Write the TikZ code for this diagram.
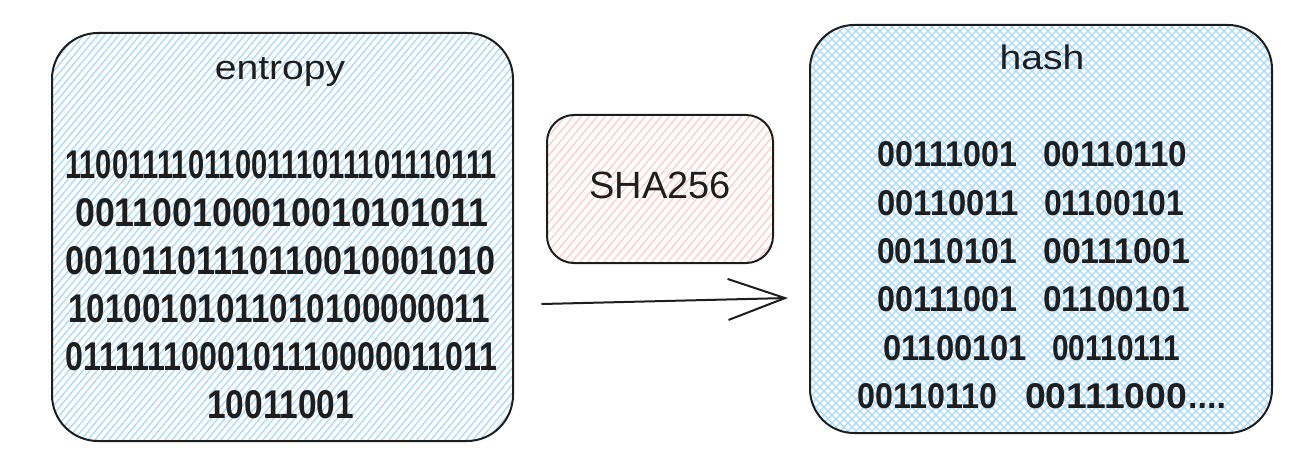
\documentclass[tikz,border=0pt]{standalone}
\usepackage{fontspec}
\usepackage{graphicx}
\setmainfont{Liberation Sans}
\newfontfamily\titlefont[FakeStretch=1.15]{Liberation Sans}
\usetikzlibrary{arrows.meta}
\definecolor{ink}{HTML}{1E1E1E}
\definecolor{bluehatch}{HTML}{A5D8FF}
\definecolor{redhatch}{HTML}{FFC9C9}
\newcommand{\bitrun}[2]{\resizebox{#1}{!}{\fontsize{40}{46}\selectfont\bfseries #2}}
\newcommand{\bitrow}[3]{\resizebox{#1}{#2}{\fontsize{40}{46}\selectfont\bfseries #3}}
\tikzset{
  sketchbox/.style={draw=ink, line width=2pt, inner sep=0pt, outer sep=0pt},
  hatchline/.style={line width=1.2pt},
  bluehatchfill/.style={path picture={
    \foreach \i in {-420,-413,...,470}
      \draw[hatchline, bluehatch] ([xshift=\i pt]path picture bounding box.south west) -- ++(360pt,430pt);}},
  bluecrossfill/.style={path picture={
    \foreach \i in {-420,-412,...,470}
      \draw[hatchline, bluehatch] ([xshift=\i pt]path picture bounding box.south west) -- ++(420pt,420pt);
    \foreach \i in {0,8,...,890}
      \draw[hatchline, bluehatch] ([xshift=\i pt]path picture bounding box.south west) -- ++(-420pt,420pt);}},
  redhatchfill/.style={path picture={
    \foreach \i in {-200,-192,...,230}
      \draw[hatchline, redhatch] ([xshift=\i pt]path picture bounding box.south west) -- ++(150pt,180pt);}},
  titletext/.style={anchor=base, text=ink, inner sep=0pt, font=\titlefont\fontsize{34}{40}\selectfont},
  leftbits/.style={anchor=base west, text=ink, inner sep=0pt},
  rightbits/.style={anchor=base west, text=ink, inner sep=0pt},
  arrowline/.style={draw=ink, line width=2pt, line cap=round, -{Straight Barb[length=57pt,width=41pt]}}
}
\begin{document}
\begin{tikzpicture}[x=1pt,y=-1pt]
\useasboundingbox (0,0) rectangle (1314,476);
% boxes
\node[sketchbox, bluehatchfill, rounded corners=46pt, minimum width=461pt, minimum height=408pt] (entropybox) at (282.5,237) {};
\node[sketchbox, bluecrossfill, rounded corners=44pt, minimum width=462pt, minimum height=408pt] (hashbox) at (1041,229) {};
\node[sketchbox, redhatchfill, rounded corners=27pt, minimum width=226pt, minimum height=148pt] (shabox) at (660,189) {};
% titles
\node[titletext] (entropytitle) at (280,80) {entropy};
\node[titletext] (hashtitle) at (1042,70) {hash};
\node[anchor=base, text=ink, inner sep=0pt, font=\fontsize{38}{44}\selectfont] (shatext) at (660,198) {SHA256};
% entropy bits
\node[leftbits] (e1) at (65,178) {\bitrow{432pt}{28pt}{1100111101100111011101110111}};
\node[leftbits] (e2) at (75,226) {\bitrow{413pt}{28pt}{001100100010010101011}};
\node[leftbits] (e3) at (65,274) {\bitrow{430pt}{28pt}{00101101110110010001010}};
\node[leftbits] (e4) at (68,322) {\bitrow{422pt}{28pt}{10100101011010100000011}};
\node[leftbits] (e5) at (65,370) {\bitrow{432pt}{28pt}{0111111000101110000011011}};
\node[leftbits] (e6) at (207,418) {\bitrow{147pt}{28pt}{10011001}};
% hash bits
\node[rightbits] (h1) at (877,167) {\bitrow{140pt}{25pt}{00111001}\hspace{26pt}\bitrow{144pt}{25pt}{00110110}};
\node[rightbits] (h2) at (877,215) {\bitrow{142pt}{25pt}{00110011}\hspace{25pt}\bitrow{140pt}{25pt}{01100101}};
\node[rightbits] (h3) at (877,263.5) {\bitrow{140pt}{25pt}{00110101}\hspace{26pt}\bitrow{147pt}{25pt}{00111001}};
\node[rightbits] (h4) at (877,311.5) {\bitrow{140pt}{25pt}{00111001}\hspace{26pt}\bitrow{147pt}{25pt}{01100101}};
\node[rightbits] (h5) at (883,360) {\bitrow{144pt}{25pt}{01100101}\hspace{25pt}\bitrow{128pt}{25pt}{00110111}};
\node[rightbits] (h6) at (857,408) {\bitrow{140pt}{25pt}{00110110}\hspace{28pt}\bitrow{162pt}{25pt}{00111000}{\fontsize{34}{40}\selectfont\bfseries\hspace{1pt}....}};
% arrow
\coordinate (arrowtail) at (542,304);
\coordinate (arrowtip) at (788,298);
\draw[arrowline] (arrowtail) -- (arrowtip);
\end{tikzpicture}
\end{document}
